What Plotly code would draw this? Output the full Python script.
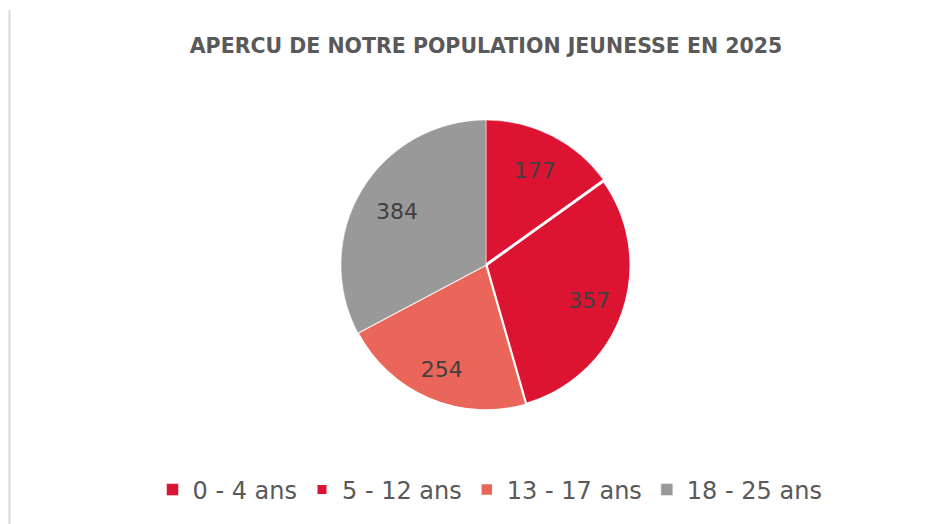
import plotly.graph_objects as go

labels = ["0 - 4 ans", "5 - 12 ans", "13 - 17 ans", "18 - 25 ans"]
values = [177, 357, 254, 384]
colors = ["#DC1431", "#DC1431", "#EB665A", "#999999"]
line_widths = [0.5, 3, 1.5, 0.5]

# layout helpers (pixels)
CX, CY, R, W, H = 486, 259, 145, 951, 524
label_scale = [1.07, 1.37, 1.27, 1.33]


def dom(s):
    r = R * s
    return dict(x=[(CX - r) / W, (CX + r) / W], y=[(CY - r) / H, (CY + r) / H])


fig = go.Figure(go.Pie(
    labels=labels,
    values=values,
    sort=False,
    direction="clockwise",
    rotation=0,
    marker=dict(colors=colors, line=dict(color="white", width=line_widths)),
    textinfo="none",
    domain=dom(1),
    hoverinfo="label+value",
))

# transparent copies used only to place the value labels
for i, s in enumerate(label_scale):
    tmpl = ["%{value}" if j == i else "" for j in range(len(values))]
    fig.add_trace(go.Pie(
        labels=labels, values=values, sort=False, direction="clockwise", rotation=0,
        marker=dict(colors=["rgba(0,0,0,0)"] * len(values), line=dict(width=0)),
        texttemplate=tmpl, textposition="inside", insidetextorientation="horizontal",
        textfont=dict(size=22, color="#404040", family="DejaVu Sans"),
        domain=dom(s), hoverinfo="skip", showlegend=False,
    ))

fig.update_layout(
    width=W, height=H,
    margin=dict(l=0, r=0, t=0, b=0),
    paper_bgcolor="white",
    plot_bgcolor="white",
    title=dict(
        text="<b>APERCU DE NOTRE POPULATION JEUNESSE EN 2025</b>",
        x=486/951, xanchor="center", y=1-46/524, yanchor="middle",
        font=dict(size=20.5, color="#595959", family="DejaVu Sans"),
    ),
    legend=dict(
        orientation="h",
        x=490/951, xanchor="center",
        y=1-490/524, yanchor="middle",
        font=dict(size=24, color="#595959", family="DejaVu Sans"),
        itemwidth=30,
        traceorder="normal",
    ),
    shapes=[dict(type="line", xref="paper", yref="paper",
                 x0=9.5/951, x1=9.5/951, y0=0, y1=1-10/524,
                 line=dict(color="#D9D9D9", width=2))],
)

fig.write_html("out.html", config={"displayModeBar": False},
               post_script="document.body.style.margin='0';")
